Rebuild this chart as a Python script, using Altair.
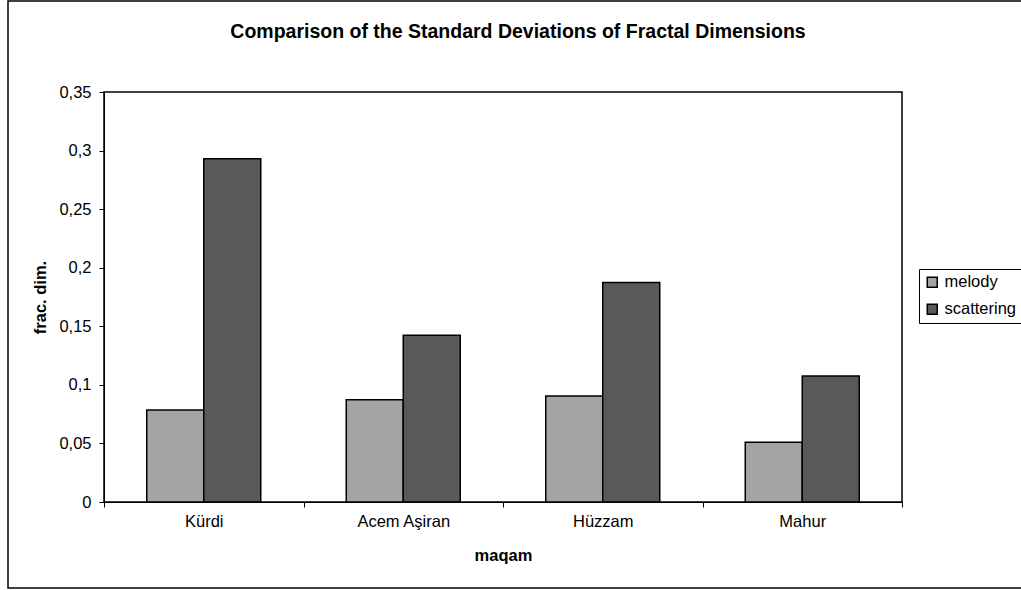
import altair as alt
import pandas as pd

maqams = ["Kürdi", "Acem Aşiran", "Hüzzam", "Mahur"]
melody = [0.0785, 0.0873, 0.0904, 0.0511]
scattering = [0.2930, 0.1424, 0.1874, 0.1076]
series_names = ["melody", "scattering"]
series_colors = ["#a4a4a4", "#595959"]
y_ticks = [0, 0.05, 0.1, 0.15, 0.2, 0.25, 0.3, 0.35]

rows = []
for i, m in enumerate(maqams):
    rows.append({"maqam": m, "series": "melody", "value": melody[i]})
    rows.append({"maqam": m, "series": "scattering", "value": scattering[i]})
df = pd.DataFrame(rows)

FONT = "Liberation Sans"
FS = 16.5

border = alt.Chart(alt.Data(values=[{}])).mark_rect(
    fillOpacity=0, stroke="black", strokeWidth=1.5
).encode(
    x=alt.value(-96), x2=alt.value(930), y=alt.value(-91), y2=alt.value(496)
)

bars = alt.Chart(df).mark_bar(stroke="black", strokeWidth=1.5).encode(
    x=alt.X(
        "maqam:N",
        sort=maqams,
        scale=alt.Scale(paddingInner=0, paddingOuter=0),
        axis=alt.Axis(
            title="maqam",
            labelAngle=0,
            tickBand="extent",
            tickSize=5,
            tickColor="black",
            domainColor="black",
            labelFontSize=FS,
            labelColor="black",
            labelPadding=6,
            titleFontSize=FS,
            titleFontWeight="bold",
            titleColor="black",
            titlePadding=18,
            grid=False,
        ),
    ),
    xOffset=alt.XOffset(
        "series:N",
        sort=series_names,
        scale=alt.Scale(paddingInner=0, paddingOuter=0.75),
    ),
    y=alt.Y(
        "value:Q",
        scale=alt.Scale(domain=[0, 0.35], nice=False),
        axis=alt.Axis(
            title="frac. dim.",
            values=y_ticks,
            labelExpr="replace(format(datum.value, '.2~f'), '.', ',')",
            tickSize=5,
            tickColor="black",
            domainColor="black",
            labelFontSize=FS,
            labelColor="black",
            labelPadding=8,
            titleFontSize=FS,
            titleFontWeight="bold",
            titleColor="black",
            titlePadding=10,
            grid=False,
        ),
    ),
    color=alt.Color(
        "series:N",
        sort=series_names,
        scale=alt.Scale(domain=series_names, range=series_colors),
        legend=alt.Legend(
            title=None,
            orient="none",
            legendX=815,
            legendY=177,
            strokeColor="black",
            padding=5,
            symbolType="square",
            symbolSize=100,
            symbolStrokeColor="black",
            symbolStrokeWidth=1.5,
            symbolOpacity=1,
            labelFontSize=FS,
            labelColor="black",
            labelOffset=4,
            rowPadding=10,
        ),
    ),
)

chart = alt.layer(border, bars).properties(
    width=798,
    height=410,
    title=alt.TitleParams(
        "Comparison of the Standard Deviations of Fractal Dimensions",
        fontSize=19.5,
        fontWeight="bold",
        font=FONT,
        color="black",
        anchor="middle",
        dx=15,
        offset=-42,
    ),
    autosize=alt.AutoSizeParams(type="none"),
    padding={"left": 104, "top": 92, "right": 119, "bottom": 88},
).configure(
    font=FONT,
    background="white",
).configure_view(
    stroke="black", strokeWidth=1.5
).configure_axis(
    labelFont=FONT, titleFont=FONT
).configure_legend(
    labelFont=FONT
)

chart.save("out.html", embed_options={"renderer": "svg", "actions": False})
